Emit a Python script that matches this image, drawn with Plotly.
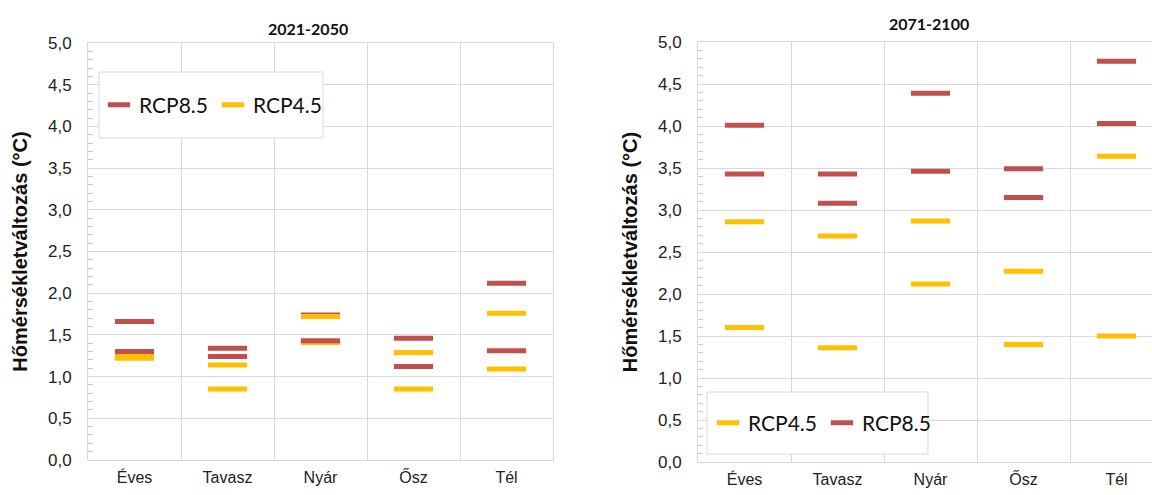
import plotly.graph_objects as go

categories = ["Éves", "Tavasz", "Nyár", "Ősz", "Tél"]

# 2021-2050
rcp85_hi_2021 = [1.66, 1.34, 1.74, 1.46, 2.12]
rcp85_lo_2021 = [1.30, 1.24, 1.43, 1.12, 1.31]
rcp45_hi_2021 = [1.24, 1.14, 1.72, 1.29, 1.76]
rcp45_lo_2021 = [1.22, 0.85, 1.41, 0.85, 1.09]

# 2071-2100
rcp85_hi_2071 = [4.01, 3.43, 4.39, 3.49, 4.77]
rcp85_lo_2071 = [3.43, 3.08, 3.46, 3.15, 4.03]
rcp45_hi_2071 = [2.86, 2.69, 2.87, 2.27, 3.64]
rcp45_lo_2071 = [1.60, 1.36, 2.12, 1.40, 1.50]

RED = "#C0504D"
YEL = "#FFC000"
GRID = "#d9d9d9"
W, H = 1152, 495

fig = go.Figure()


def add(vals, color, name, xa, ya, legend, show, rank):
    fig.add_trace(go.Scatter(
        x=categories, y=vals, mode="markers", name=name,
        xaxis=xa, yaxis=ya, legend=legend, legendgroup=legend + name,
        showlegend=show, legendrank=rank, hoverinfo="skip",
        marker=dict(symbol="line-ew", size=28, color=color,
                    line=dict(width=5, color=color)),
    ))


# left panel (draw order: yellow lo, red lo, red hi, yellow hi)
add(rcp45_lo_2021, YEL, "RCP4.5", "x", "y", "legend", True, 2)
add(rcp85_lo_2021, RED, "RCP8.5", "x", "y", "legend", True, 1)
add(rcp85_hi_2021, RED, "RCP8.5", "x", "y", "legend", False, 1)
add(rcp45_hi_2021, YEL, "RCP4.5", "x", "y", "legend", False, 2)
# right panel
add(rcp45_lo_2071, YEL, "RCP4.5", "x2", "y2", "legend2", True, 1)
add(rcp85_lo_2071, RED, "RCP8.5", "x2", "y2", "legend2", True, 2)
add(rcp85_hi_2071, RED, "RCP8.5", "x2", "y2", "legend2", False, 2)
add(rcp45_hi_2071, YEL, "RCP4.5", "x2", "y2", "legend2", False, 1)

tick_font = dict(family="Liberation Sans, Arial, sans-serif", size=17, color="#222222")
xtick_font = dict(family="Liberation Sans, Arial, sans-serif", size=16, color="#222222")
title_font = dict(family="Liberation Sans, Arial, sans-serif", size=20, color="#111111")
legend_font = dict(family="Lato, Open Sans, sans-serif", size=21, color="#111111")


def xaxis(domain, rng):
    return dict(domain=domain, type="category", categoryorder="array",
                categoryarray=categories, range=rng, tickson="boundaries",
                showgrid=True, gridcolor=GRID, gridwidth=1,
                showline=True, linecolor=GRID, linewidth=1, mirror=True,
                ticks="", tickfont=xtick_font, ticklabelstandoff=3, zeroline=False,
                automargin=False)


def yaxis(domain, anchor):
    return dict(domain=domain, anchor=anchor, range=[0, 5], dtick=0.5, tick0=0,
                tickformat=".1f", showgrid=True, gridcolor=GRID, gridwidth=1,
                showline=True, linecolor=GRID, linewidth=1, mirror=True,
                ticks="", tickfont=tick_font, ticklabelstandoff=12, zeroline=False,
                automargin=False,
                minor=dict(dtick=0.1, ticks="inside", ticklen=5, tickcolor="#c8c8c8",
                           showgrid=False),
                title=dict(text="<b>Hőmérsékletváltozás (°C)</b>", font=title_font,
                           standoff=14))


fig.update_layout(
    width=W, height=H, margin=dict(l=0, r=0, t=0, b=0),
    paper_bgcolor="white", plot_bgcolor="white", separators=", ",
    xaxis=xaxis([88 / W, 553 / W], [-0.5, 4.5]),
    yaxis=yaxis([(H - 460) / H, (H - 43) / H], "x"),
    xaxis2=dict(xaxis([698 / W, 1.0], [-0.5, 4.5 - (1163 - 1152) / 93]), anchor="y2"),
    yaxis2=yaxis([(H - 462) / H, (H - 42) / H], "x2"),
    legend=dict(orientation="h", x=99 / W, y=(H - 105) / H, xanchor="left",
                yanchor="middle", bgcolor="rgba(0,0,0,0)", borderwidth=0,
                font=legend_font, itemclick=False, itemdoubleclick=False),
    legend2=dict(orientation="h", x=708 / W, y=(H - 423) / H, xanchor="left",
                 yanchor="middle", bgcolor="rgba(0,0,0,0)", borderwidth=0,
                 font=legend_font, itemclick=False, itemdoubleclick=False),
    shapes=[
        dict(type="rect", xref="paper", yref="paper", x0=99 / W, x1=323 / W,
             y0=(H - 138) / H, y1=(H - 72) / H, fillcolor="white",
             line=dict(color=GRID, width=1), layer="above"),
        dict(type="rect", xref="paper", yref="paper", x0=707 / W, x1=928 / W,
             y0=(H - 454) / H, y1=(H - 392) / H, fillcolor="white",
             line=dict(color=GRID, width=1), layer="above"),
    ],
    annotations=[
        dict(text="<b>2021-2050</b>", xref="x domain", x=(308 - 88) / 465, yref="paper",
             y=(H - 28) / H, showarrow=False, yanchor="middle",
             font=dict(family="Lato, Open Sans, sans-serif", size=16, color="#111111")),
        dict(text="<b>2071-2100</b>", xref="x2 domain", x=(929 - 698) / (1152 - 698),
             yref="paper", y=(H - 24) / H, showarrow=False, yanchor="middle",
             font=dict(family="Lato, Open Sans, sans-serif", size=16, color="#111111")),
    ],
)

fig.write_html(
    "out.html",
    config={"displayModeBar": False},
    post_script="document.body.style.margin='0';document.body.style.overflow='hidden';",
)
